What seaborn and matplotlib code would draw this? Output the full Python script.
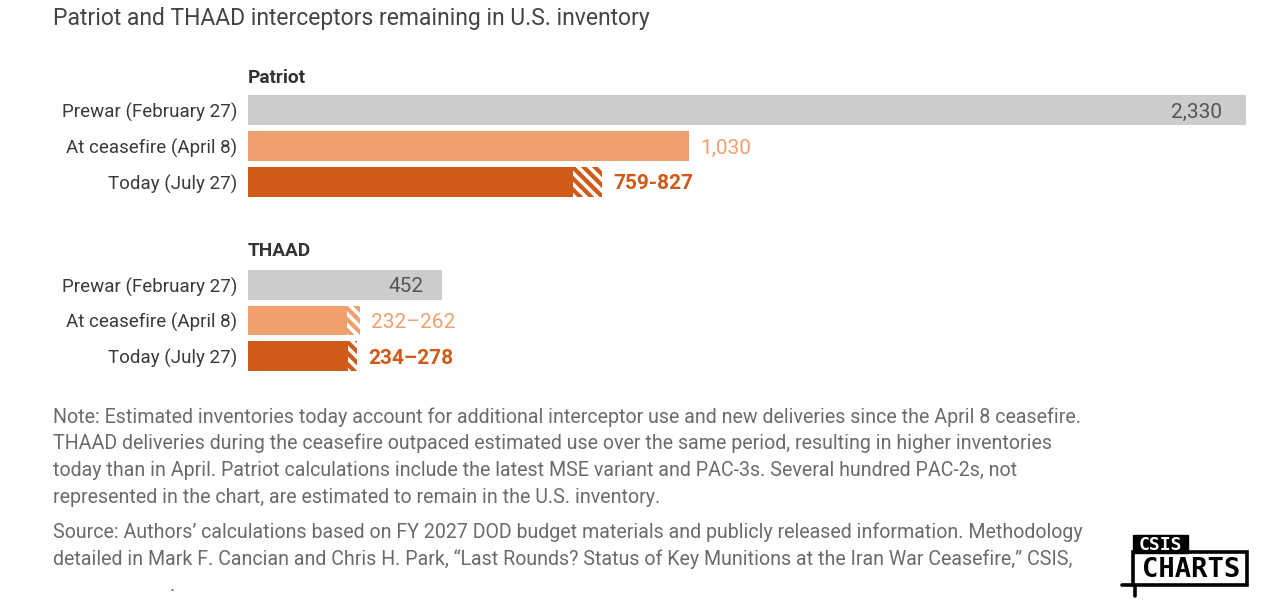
import matplotlib
matplotlib.use('Agg')
import matplotlib.pyplot as plt
import seaborn as sns
import pandas as pd
from matplotlib.patches import Rectangle
from matplotlib.lines import Line2D

# data
rows = ["Prewar (February 27)", "At ceasefire (April 8)", "Today (July 27)"]
patriot_low = [2330, 1030, 759]
patriot_high = [2330, 1030, 827]
patriot_labels = ["2,330", "1,030", "759-827"]
thaad_low = [452, 232, 234]
thaad_high = [452, 262, 255]
thaad_labels = ["452", "232\u2013262", "234\u2013278"]

GREY = "#cccccd"
LIGHT = "#f0a06c"
DARK = "#d05a17"
bar_colors = [GREY, LIGHT, DARK]
label_colors = ["#555555", LIGHT, DARK]
label_weights = ["normal", "normal", "bold"]

W, H = 1280, 610

sns.set_theme(style="white")
plt.rcParams['font.family'] = ['Roboto', 'DejaVu Sans']
plt.rcParams['hatch.linewidth'] = 2.6

fig = plt.figure(figsize=(W / 100, H / 100), dpi=100)


def fx(px):
    return px / W


def fy(py):
    return 1 - py / H


def draw_group(ax, low, high, labels, inner_pad):
    df = pd.DataFrame({"row": rows, "low": low})
    sns.barplot(data=df, x="low", y="row", hue="row", palette=bar_colors,
                legend=False, width=0.83, ax=ax, saturation=1, linewidth=0)
    for i in range(len(rows)):
        # hatched part covers the uncertainty range
        if high[i] > low[i]:
            ax.barh(i, high[i] - low[i], left=low[i], height=0.83,
                    color=bar_colors[i], edgecolor="white", linewidth=0,
                    hatch="\\\\\\")
        if i == 0:
            ax.annotate(labels[i], (high[i], i), xytext=(-inner_pad, -2),
                        textcoords="offset pixels", ha="right", va="center",
                        fontsize=15, color=label_colors[i])
        else:
            ax.annotate(labels[i], (high[i], i), xytext=(11, -2),
                        textcoords="offset pixels", ha="left", va="center",
                        fontsize=15, color=label_colors[i],
                        fontweight=label_weights[i])
    ax.set_xlim(0, 2330)
    ax.set_ylim(2.5, -0.5)
    ax.set_xlabel("")
    ax.set_ylabel("")
    ax.set_xticks([])
    ax.tick_params(axis="y", length=0, pad=8, labelsize=13.5, labelcolor="#3a3a3a")
    sns.despine(ax=ax, left=True, bottom=True)


ax1 = fig.add_axes([fx(248), fy(200), fx(1246) - fx(248), fy(92) - fy(200)])
draw_group(ax1, patriot_low, patriot_high, patriot_labels, 24)
ax2 = fig.add_axes([fx(248), fy(374), fx(1246) - fx(248), fy(267) - fy(374)])
draw_group(ax2, thaad_low, thaad_high, thaad_labels, 18)

fig.text(fx(53), fy(19), "Patriot and THAAD interceptors remaining in U.S. inventory",
         fontsize=16.5, color="#444444", va="center")
fig.text(fx(248), fy(78), "Patriot", fontsize=13.7, fontweight="bold",
         color="#333333", va="center")
fig.text(fx(248), fy(251), "THAAD", fontsize=13.7, fontweight="bold",
         color="#333333", va="center")

note = [
    "Note: Estimated inventories today account for additional interceptor use and new deliveries since the April 8 ceasefire.",
    "THAAD deliveries during the ceasefire outpaced estimated use over the same period, resulting in higher inventories",
    "today than in April. Patriot calculations include the latest MSE variant and PAC-3s. Several hundred PAC-2s, not",
    "represented in the chart, are estimated to remain in the U.S. inventory.",
]
for k, line in enumerate(note):
    fig.text(fx(53), fy(417 + k * 26.7), line, fontsize=14.1, color="#6b6b6b", va="center")

source = [
    "Source: Authors\u2019 calculations based on FY 2027 DOD budget materials and publicly released information. Methodology",
    "detailed in Mark F. Cancian and Chris H. Park, \u201cLast Rounds? Status of Key Munitions at the Iran War Ceasefire,\u201d CSIS,",
    ".",
]
src_x = [53, 53, 170]
for k, line in enumerate(source):
    fig.text(fx(src_x[k]), fy(532 + k * 26.7), line, fontsize=14.1, color="#6b6b6b", va="center")

# CSIS CHARTS logo
fig.patches.append(Rectangle((fx(1133), fy(553)), fx(1188) - fx(1133), fy(535) - fy(553),
                             transform=fig.transFigure, facecolor="black", edgecolor="black"))
fig.patches.append(Rectangle((fx(1133), fy(585)), fx(1247) - fx(1133), fy(552) - fy(585),
                             transform=fig.transFigure, facecolor="none", edgecolor="black",
                             linewidth=2.6))
fig.lines.append(Line2D([fx(1122), fx(1133)], [fy(585), fy(585)], transform=fig.transFigure,
                        color="black", linewidth=2.6))
fig.lines.append(Line2D([fx(1135), fx(1135)], [fy(585), fy(596)], transform=fig.transFigure,
                        color="black", linewidth=2.6))
fig.text(fx(1160.5), fy(545), "CSIS", fontsize=13, fontweight="bold", color="white",
         ha="center", va="center", family="DejaVu Sans Mono")
fig.text(fx(1191), fy(570), "CHARTS", fontsize=19.5, fontweight="bold", color="black",
         ha="center", va="center", family="DejaVu Sans Mono")

fig.savefig("out.png", dpi=100, facecolor="white")
